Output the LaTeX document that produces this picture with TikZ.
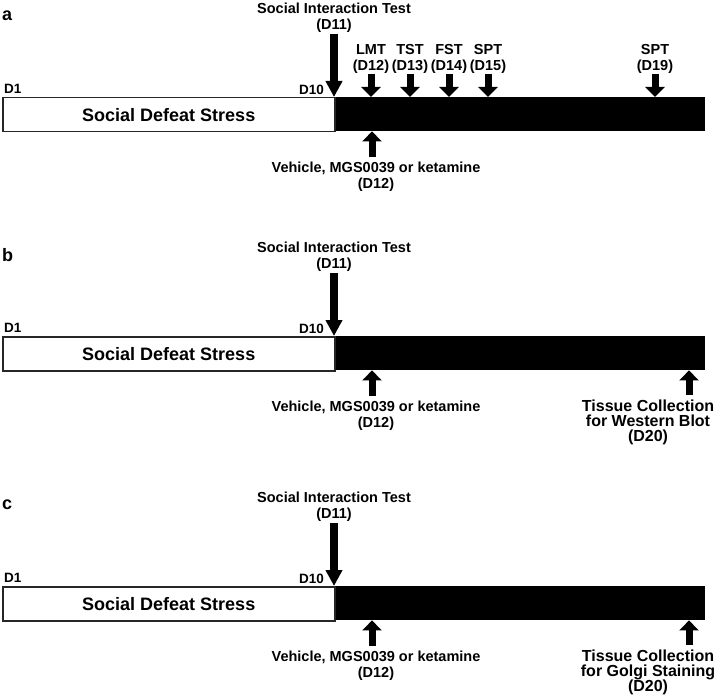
\documentclass[tikz,border=0pt]{standalone}
\usepackage{fontspec}
\setmainfont{Liberation Sans}
\usetikzlibrary{arrows.meta}
\begin{document}
\begin{tikzpicture}[x=1pt, y=-1pt,
    every node/.style={inner sep=0pt, align=center, font=\bfseries\fontsize{14.5}{16}\selectfont},
    panel/.style={anchor=west, font=\bfseries\fontsize{18}{18}\selectfont},
    day/.style={font=\bfseries\fontsize{13.5}{13.5}\selectfont},
    tissue/.style={font=\bfseries\fontsize{16}{15}\selectfont},
    bigarrow/.style={line width=8pt, -{Triangle[width=16pt, length=16pt]}},
    smallarrow/.style={line width=7pt, -{Triangle[width=19pt, length=10pt]}}]
    \useasboundingbox (0,0) rectangle (714,695);
    % common part of the three timelines
    \foreach \oy/\p in {0/a, 239/b, 489/c} {
        \begin{scope}[shift={(0,\oy)}]
            \node[panel] (lbl\p) at (2,16) {\p};
            \node (sit\p) at (334,18) {Social Interaction Test\\(D11)};
            \node[day, anchor=west] (dfirst\p) at (4,89) {D1};
            \node[day, anchor=east] (dlast\p) at (324,90) {D10};
            \node[draw=black!85, line width=1.5pt, anchor=north west, minimum width=332pt, minimum height=34pt,
                font=\bfseries\fontsize{18}{18}\selectfont] (stress\p) at (2,97) {Social Defeat Stress};
            \node[fill=black, anchor=north west, minimum width=369pt, minimum height=34pt] (post\p) at (stress\p.north east) {};
            \draw[bigarrow, shorten <=1pt] (sit\p.south) -- (sit\p.south |- stress\p.north);
            \node (drug\p) at (376,177) {Vehicle, MGS0039 or ketamine\\(D12)};
            \coordinate (inj\p) at (372,157);
            \draw[smallarrow] (inj\p) -- (inj\p |- post\p.south);
        \end{scope}
    }
    % behaviour tests (a)
    \foreach \x/\t/\d in {371/LMT/12, 410/TST/13, 449/FST/14, 488/SPT/15, 655/SPT/19} {
        \node (test\d) at (\x,59) {\t\\(D\d)};
        \draw[smallarrow] (test\d.south) -- (test\d.south |- posta.north);
    }
    % tissue collection (b, c)
    \node[tissue] (tisb) at (648,422) {Tissue Collection\\for Western Blot\\(D20)};
    \coordinate (cutb) at (689,395);
    \draw[smallarrow] (cutb) -- (cutb |- postb.south);
    \node[tissue] (tisc) at (648,672) {Tissue Collection\\for Golgi Staining\\(D20)};
    \coordinate (cutc) at (689,645);
    \draw[smallarrow] (cutc) -- (cutc |- postc.south);
\end{tikzpicture}
\end{document}
